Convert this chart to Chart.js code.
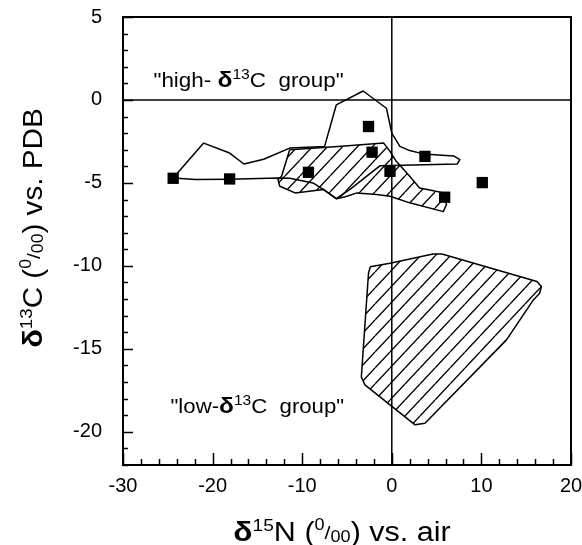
<!DOCTYPE html>
<html>
<head>
<meta charset="utf-8">
<script src="https://cdn.jsdelivr.net/npm/chart.js@4/dist/chart.umd.min.js"></script>
<style>
  body { margin: 0; background: #fff; }
  canvas { display: block; }
</style>
</head>
<body>
<canvas id="isoChart" width="582" height="545"></canvas>
<script>
// sample points (black squares)
const pointsX = [-24.4, -18.1, -9.3, -2.6, -2.2, -0.2, 3.7, 5.9, 10.1];
const pointsY = [-4.72, -4.76, -4.36, -1.6, -3.15, -4.3, -3.4, -5.86, -4.98];

// open outline of the "high" group
const outlineX = [-24.4, -21.0, -18.1, -16.5, -14.3, -11.4, -7.5, -6.2, -3.2, -0.6, 0.0, 0.9, 2.0, 3.5, 6.9, 7.6, 7.3, -1.3, -4.7, -6.2, -7.6, -8.8, -11.4, -12.7, -18.1, -21.9, -24.4];
const outlineY = [-4.7, -2.6, -3.2, -3.86, -3.57, -2.9, -2.8, -0.3, 0.54, -0.5, -2.0, -2.8, -3.05, -3.25, -3.37, -3.6, -3.86, -3.96, -5.4, -5.95, -5.4, -5.0, -4.72, -4.7, -4.78, -4.8, -4.7];

// hatched area in the "high" group
const hatchHighX = [-11.4, -6.0, -0.9, -0.2, 0.5, 2.0, 3.1, 4.5, 5.8, 6.1, 5.75, 2.0, -0.2, -1.7, -3.9, -5.0, -6.15, -7.6, -8.75, -10.8, -12.5, -12.7, -12.3, -11.4];
const hatchHighY = [-3.0, -2.8, -2.6, -3.1, -3.7, -4.6, -5.3, -5.45, -5.6, -6.3, -6.73, -6.2, -5.8, -5.7, -5.6, -5.8, -5.96, -5.4, -5.47, -5.6, -5.2, -4.8, -4.6, -3.0];

// hatched area of the "low" group
const hatchLowX = [-2.4, -0.2, 4.6, 5.6, 16.2, 16.7, 16.5, 15.8, 12.8, 3.7, 2.6, -3.0, -3.4, -2.6, -2.4];
const hatchLowY = [-10.05, -9.84, -9.28, -9.28, -10.94, -11.24, -11.65, -12.05, -14.46, -19.48, -19.58, -17.17, -16.7, -10.44, -10.05];

const xTickLabels = [-30, -20, -10, 0, 10, 20];
const yTickLabels = [-20, -15, -10, -5, 0, 5];

const FONT = '"Liberation Sans", Arial, sans-serif';

toPoints = (xs, ys) => xs.map((x, i) => ({ x: x, y: ys[i] }));

makeHatch = () => {
    const w = 15, h = 16;
    const c = document.createElement('canvas');
    c.width = w;
    c.height = h;
    const g = c.getContext('2d');
    g.strokeStyle = '#000';
    g.lineWidth = 1.3;
    g.beginPath();
    g.moveTo(0, h); g.lineTo(w, 0);
    g.moveTo(-w, h); g.lineTo(0, 0);
    g.moveTo(w, h); g.lineTo(2 * w, 0);
    g.moveTo(-w / 2, h * 1.5); g.lineTo(w / 2, h / 2);
    g.stroke();
    return g.createPattern(c, 'repeat');
};

// text with superscripts: parts = [text, size, bold, rise]; k = horizontal stretch
drawRich = (ctx, parts, x, y, k, centered) => {
    let total = 0;
    parts.forEach((p) => {
        ctx.font = (p[2] ? 'bold ' : '') + p[1] + 'px ' + FONT;
        total += ctx.measureText(p[0]).width;
    });
    ctx.save();
    ctx.translate(x, y);
    ctx.scale(k, 1);
    let cx = centered ? -total / 2 : 0;
    parts.forEach((p) => {
        ctx.font = (p[2] ? 'bold ' : '') + p[1] + 'px ' + FONT;
        ctx.fillText(p[0], cx, -(p[3] || 0));
        cx += ctx.measureText(p[0]).width;
    });
    ctx.restore();
};

const framePlugin = {
    id: 'frame',
    afterDraw: (chart) => {
        const ctx = chart.ctx;
        const a = chart.chartArea;
        const xs = chart.scales.x, ys = chart.scales.y;
        ctx.save();
        ctx.strokeStyle = '#000';
        ctx.fillStyle = '#000';
        ctx.lineWidth = 2;
        ctx.strokeRect(a.left, a.top, a.right - a.left, a.bottom - a.top);

        // inward ticks
        ctx.lineWidth = 1.5;
        ctx.beginPath();
        for (let v = -30; v <= 20; v += 2) {
            const px = Math.round(xs.getPixelForValue(v)) + 0.5;
            const len = v % 10 === 0 ? 12 : 6;
            ctx.moveTo(px, a.bottom);
            ctx.lineTo(px, a.bottom - len);
        }
        for (let v = -22; v <= 5; v += 1) {
            const py = Math.round(ys.getPixelForValue(v)) + 0.5;
            const len = v % 5 === 0 ? 10 : 5;
            ctx.moveTo(a.left, py);
            ctx.lineTo(a.left + len, py);
        }
        ctx.stroke();

        ctx.textBaseline = 'alphabetic';
        // group labels
        drawRich(ctx, [['"high- ', 20], ['δ', 22, true], ['13', 14, false, 8], ['C  group"', 20]],
            xs.getPixelForValue(-26.6), ys.getPixelForValue(0.8), 1.12, false);
        drawRich(ctx, [['"low-', 20], ['δ', 22, true], ['13', 14, false, 8], ['C  group"', 20]],
            xs.getPixelForValue(-24.7), ys.getPixelForValue(-18.85), 1.11, false);

        // axis titles
        drawRich(ctx, [['δ', 28, true], ['15', 17, false, 10], ['N (', 27], ['0', 16, false, 11], ['/', 19, false, 2], ['00', 16, false, -1], [') vs. air', 27]],
            (a.left + a.right) / 2 - 5, 541, 1.13, true);
        ctx.translate(42, 228);
        ctx.rotate(-Math.PI / 2);
        drawRich(ctx, [['δ', 28, true], ['13', 17, false, 10], ['C (', 27], ['0', 16, false, 11], ['/', 19, false, 2], ['00', 16, false, -1], [') vs. PDB', 27]],
            0, 0, 1.1, true);
        ctx.restore();
    }
};

const lineSet = (xs, ys, fill) => ({
    data: toPoints(xs, ys),
    showLine: true,
    borderColor: '#000',
    borderWidth: 1.5,
    borderJoinStyle: 'round',
    pointRadius: 0,
    tension: 0,
    fill: fill ? 'shape' : false,
    backgroundColor: fill ? makeHatch() : 'transparent'
});

new Chart(document.getElementById('isoChart').getContext('2d'), {
    type: 'scatter',
    data: {
        datasets: [
            {
                data: toPoints(pointsX, pointsY),
                pointStyle: 'rect',
                pointRadius: 8,
                backgroundColor: '#000',
                borderColor: '#000',
                borderWidth: 0
            },
            lineSet(outlineX, outlineY, false),
            lineSet(hatchHighX, hatchHighY, true),
            lineSet(hatchLowX, hatchLowY, true),
            lineSet([0, 0], [-22, 5], false),
            lineSet([-30, 20], [0, 0], false)
        ]
    },
    options: {
        responsive: false,
        animation: false,
        events: [],
        layout: { padding: { top: 17, right: 11, left: 0, bottom: 0 } },
        plugins: {
            legend: { display: false },
            tooltip: { enabled: false }
        },
        scales: {
            x: {
                type: 'linear',
                min: -30,
                max: 20,
                afterBuildTicks: (s) => { s.ticks = xTickLabels.map((v) => ({ value: v })); },
                afterFit: (s) => {
                    s.height = 80;
                    s.paddingLeft = 0; s.paddingRight = 0; s.paddingTop = 0; s.paddingBottom = 0;
                },
                grid: { display: false, drawTicks: false },
                border: { display: false },
                ticks: { color: '#000', padding: 9, font: { family: FONT, size: 20 } }
            },
            y: {
                type: 'linear',
                min: -22,
                max: 5,
                afterBuildTicks: (s) => { s.ticks = yTickLabels.map((v) => ({ value: v })); },
                afterFit: (s) => {
                    s.width = 123;
                    s.paddingLeft = 0; s.paddingRight = 0; s.paddingTop = 0; s.paddingBottom = 0;
                },
                grid: { display: false, drawTicks: false },
                border: { display: false },
                ticks: { color: '#000', padding: 21, font: { family: FONT, size: 20 } }
            }
        }
    },
    plugins: [framePlugin]
});
</script>
</body>
</html>
